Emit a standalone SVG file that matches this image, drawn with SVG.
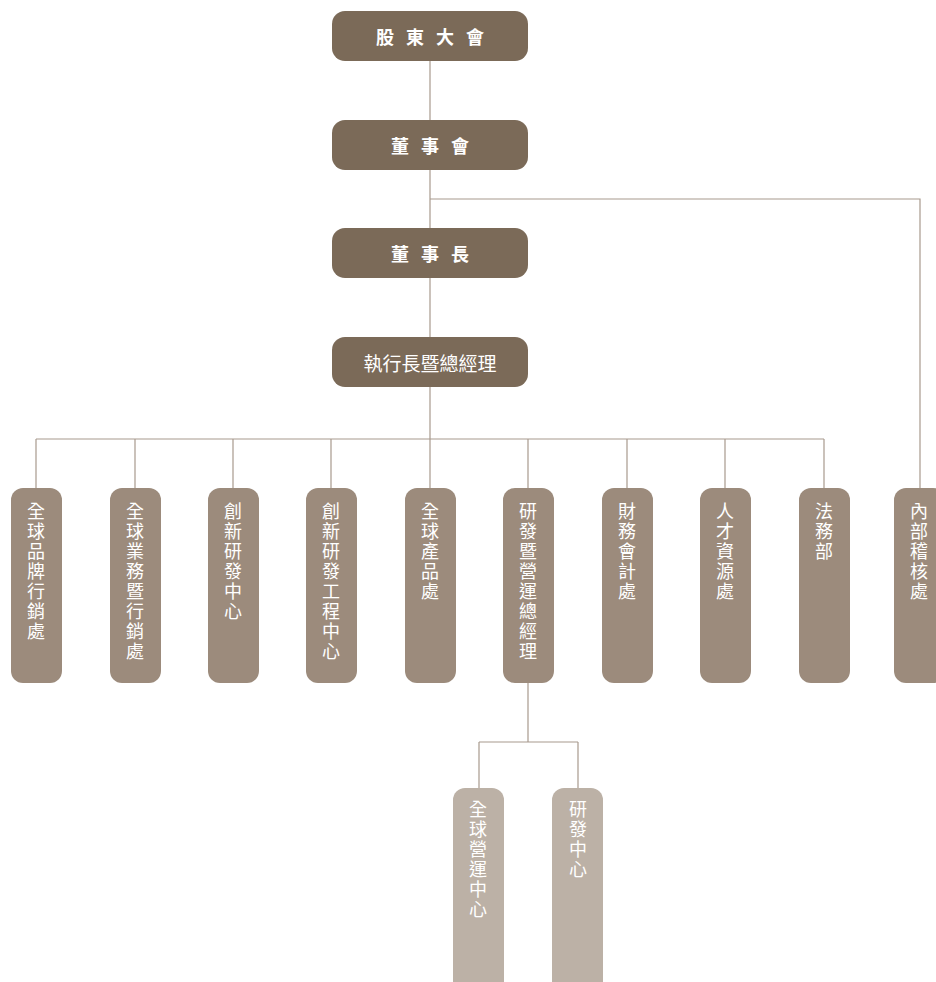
<svg xmlns="http://www.w3.org/2000/svg" width="936" height="982" viewBox="0 0 936 982">
<style>
.top{fill:#7b6a58}
.mid{fill:#9c8b7c}
.low{fill:#bcb1a6}
.tt{font-family:"Noto Sans CJK TC","Noto Sans CJK SC",sans-serif;font-size:18px;font-weight:bold;fill:#ffffff;text-anchor:middle;dominant-baseline:central}
.vt{font-family:"Noto Sans CJK TC","Noto Sans CJK SC",sans-serif;font-size:18px;fill:#ffffff;text-anchor:middle;dominant-baseline:central}
.ln{fill:none;stroke:#a89a8e;stroke-width:1.2}
</style>
<rect width="936" height="982" fill="#ffffff"/>
<g id="connectors">
<path class="ln" d="M430 61V120M430 170V228M430 199H920V488M430 278V337M430 387V439M36 439H824M36 439V488M135 439V488M233 439V488M331 439V488M430 439V488M528 439V488M627 439V488M725 439V488M824 439V488M528 683V742M479 742H578M479 742V788M578 742V788"/>
</g>
<g id="n1"><rect class="top" x="332" y="11" width="196" height="50" rx="13"/><text class="tt" x="436" y="36" letter-spacing="12">股東大會</text></g>
<g id="n2"><rect class="top" x="332" y="120" width="196" height="50" rx="13"/><text class="tt" x="436" y="145" letter-spacing="12">董事會</text></g>
<g id="n3"><rect class="top" x="332" y="228" width="196" height="50" rx="13"/><text class="tt" x="436" y="253" letter-spacing="12">董事長</text></g>
<g id="n4"><rect class="top" x="332" y="337" width="196" height="50" rx="13"/><text class="tt" x="430" y="362" style="font-weight:normal;font-size:19px">執行長暨總經理</text></g>
<g id="d1"><rect class="mid" x="11" y="488" width="51" height="195" rx="12"/><text class="vt"><tspan x="36" y="510">全</tspan><tspan x="36" dy="20">球</tspan><tspan x="36" dy="20">品</tspan><tspan x="36" dy="20">牌</tspan><tspan x="36" dy="20">行</tspan><tspan x="36" dy="20">銷</tspan><tspan x="36" dy="20">處</tspan></text></g>
<g id="d2"><rect class="mid" x="110" y="488" width="51" height="195" rx="12"/><text class="vt"><tspan x="135" y="510">全</tspan><tspan x="135" dy="20">球</tspan><tspan x="135" dy="20">業</tspan><tspan x="135" dy="20">務</tspan><tspan x="135" dy="20">暨</tspan><tspan x="135" dy="20">行</tspan><tspan x="135" dy="20">銷</tspan><tspan x="135" dy="20">處</tspan></text></g>
<g id="d3"><rect class="mid" x="208" y="488" width="51" height="195" rx="12"/><text class="vt"><tspan x="233" y="510">創</tspan><tspan x="233" dy="20">新</tspan><tspan x="233" dy="20">研</tspan><tspan x="233" dy="20">發</tspan><tspan x="233" dy="20">中</tspan><tspan x="233" dy="20">心</tspan></text></g>
<g id="d4"><rect class="mid" x="306" y="488" width="51" height="195" rx="12"/><text class="vt"><tspan x="331" y="510">創</tspan><tspan x="331" dy="20">新</tspan><tspan x="331" dy="20">研</tspan><tspan x="331" dy="20">發</tspan><tspan x="331" dy="20">工</tspan><tspan x="331" dy="20">程</tspan><tspan x="331" dy="20">中</tspan><tspan x="331" dy="20">心</tspan></text></g>
<g id="d5"><rect class="mid" x="405" y="488" width="51" height="195" rx="12"/><text class="vt"><tspan x="430" y="510">全</tspan><tspan x="430" dy="20">球</tspan><tspan x="430" dy="20">產</tspan><tspan x="430" dy="20">品</tspan><tspan x="430" dy="20">處</tspan></text></g>
<g id="d6"><rect class="mid" x="503" y="488" width="51" height="195" rx="12"/><text class="vt"><tspan x="528" y="510">研</tspan><tspan x="528" dy="20">發</tspan><tspan x="528" dy="20">暨</tspan><tspan x="528" dy="20">營</tspan><tspan x="528" dy="20">運</tspan><tspan x="528" dy="20">總</tspan><tspan x="528" dy="20">經</tspan><tspan x="528" dy="20">理</tspan></text></g>
<g id="d7"><rect class="mid" x="602" y="488" width="51" height="195" rx="12"/><text class="vt"><tspan x="627" y="510">財</tspan><tspan x="627" dy="20">務</tspan><tspan x="627" dy="20">會</tspan><tspan x="627" dy="20">計</tspan><tspan x="627" dy="20">處</tspan></text></g>
<g id="d8"><rect class="mid" x="700" y="488" width="51" height="195" rx="12"/><text class="vt"><tspan x="725" y="510">人</tspan><tspan x="725" dy="20">才</tspan><tspan x="725" dy="20">資</tspan><tspan x="725" dy="20">源</tspan><tspan x="725" dy="20">處</tspan></text></g>
<g id="d9"><rect class="mid" x="799" y="488" width="51" height="195" rx="12"/><text class="vt"><tspan x="824" y="510">法</tspan><tspan x="824" dy="20">務</tspan><tspan x="824" dy="20">部</tspan></text></g>
<g id="d10"><rect class="mid" x="894" y="488" width="51" height="195" rx="12"/><text class="vt"><tspan x="919" y="510">內</tspan><tspan x="919" dy="20">部</tspan><tspan x="919" dy="20">稽</tspan><tspan x="919" dy="20">核</tspan><tspan x="919" dy="20">處</tspan></text></g>
<g id="s1"><rect class="low" x="453" y="788" width="51" height="205" rx="12"/><text class="vt"><tspan x="478" y="808">全</tspan><tspan x="478" dy="20">球</tspan><tspan x="478" dy="20">營</tspan><tspan x="478" dy="20">運</tspan><tspan x="478" dy="20">中</tspan><tspan x="478" dy="20">心</tspan></text></g>
<g id="s2"><rect class="low" x="552" y="788" width="51" height="205" rx="12"/><text class="vt"><tspan x="578" y="808">研</tspan><tspan x="578" dy="20">發</tspan><tspan x="578" dy="20">中</tspan><tspan x="578" dy="20">心</tspan></text></g>
</svg>
